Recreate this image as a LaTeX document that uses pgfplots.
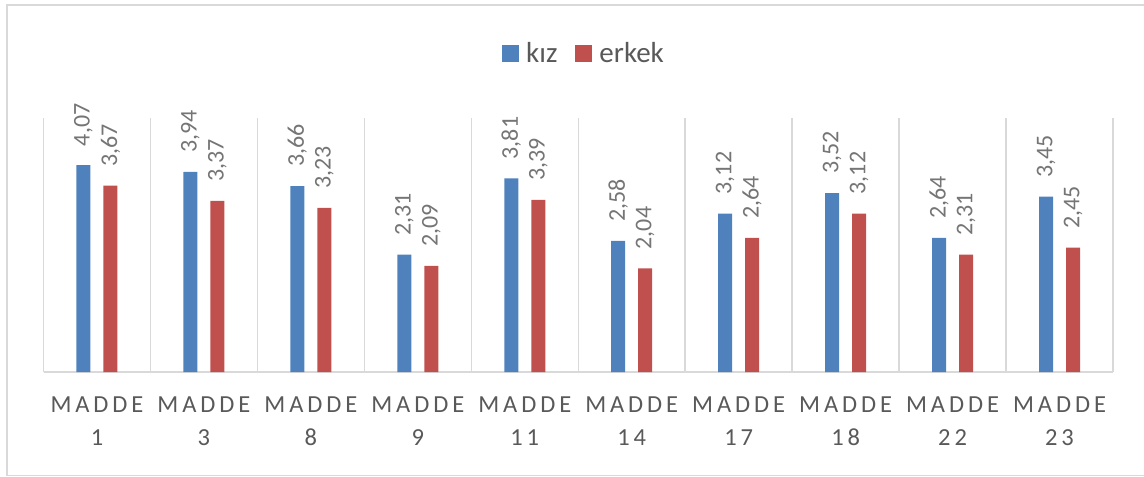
\documentclass[border=0pt]{standalone}
\usepackage{pgfplots}
\pgfplotsset{compat=1.18}
\usepackage{fontspec}
\setmainfont{Carlito}
\newfontfamily\spaced{Carlito}[LetterSpace=16]
\definecolor{kblue}{HTML}{4F81BD}
\definecolor{kred}{HTML}{C0504D}
\definecolor{gridc}{HTML}{D9D9D9}
\definecolor{txt}{HTML}{595959}
\definecolor{lbl}{HTML}{757575}
\begin{document}
\begin{tikzpicture}
\useasboundingbox (0,0) rectangle (1144bp,477bp);
\draw[gridc, line width=1.5bp] (7bp,1.5bp) rectangle (1170bp,472bp);
\begin{axis}[
  at={(43.5bp,105bp)}, anchor=south west,
  scale only axis, width=1069.5bp, height=254bp,
  xmin=0.5, xmax=10.5, ymin=0, ymax=5,
  clip=false,
  axis x line*=bottom, axis y line=none,
  x axis line style={draw=gridc, line width=1.5bp, -},
  xtick={1,...,10},
  xticklabels={{MADDE\\1},{MADDE\\3},{MADDE\\8},{MADDE\\9},{MADDE\\11},{MADDE\\14},{MADDE\\17},{MADDE\\18},{MADDE\\22},{MADDE\\23}},
  xticklabel style={align=center, font={\fontsize{24.5bp}{33.5bp}\selectfont\spaced}, text=txt, yshift=-21bp},
  major tick length=0pt, minor tick length=0pt,
  minor xtick={0.5,1.5,...,10.5},
  xminorgrids=true,
  minor x grid style={gridc, line width=1.5bp},
  ybar=13bp, bar width=14bp,
  nodes near coords={\pgfmathprintnumber[assume math mode=true,use comma,fixed,fixed zerofill,precision=2]{\pgfplotspointmeta}},
  every node near coord/.append style={rotate=90, anchor=west, inner xsep=19bp, inner ysep=0pt, font=\fontsize{24bp}{28bp}\selectfont, text=lbl},
  legend columns=2,
  legend style={at={(0.5054,1.254)}, anchor=center, draw=none, fill=none,
    font=\fontsize{29bp}{32bp}\selectfont, text=txt,
    /tikz/every even column/.append style={column sep=16bp}},
  legend image code/.code={\fill[#1] (0bp,-8.5bp) rectangle (17bp,8.5bp);},
]
\addplot[fill=kblue, draw=none] coordinates {(1,4.07) (2,3.94) (3,3.66) (4,2.31) (5,3.81) (6,2.58) (7,3.12) (8,3.52) (9,2.64) (10,3.45)};
\addplot[fill=kred, draw=none] coordinates {(1,3.67) (2,3.37) (3,3.23) (4,2.09) (5,3.39) (6,2.04) (7,2.64) (8,3.12) (9,2.31) (10,2.45)};
\legend{\hspace{5bp}kız, \hspace{5bp}erkek}
\end{axis}
\end{tikzpicture}
\end{document}
